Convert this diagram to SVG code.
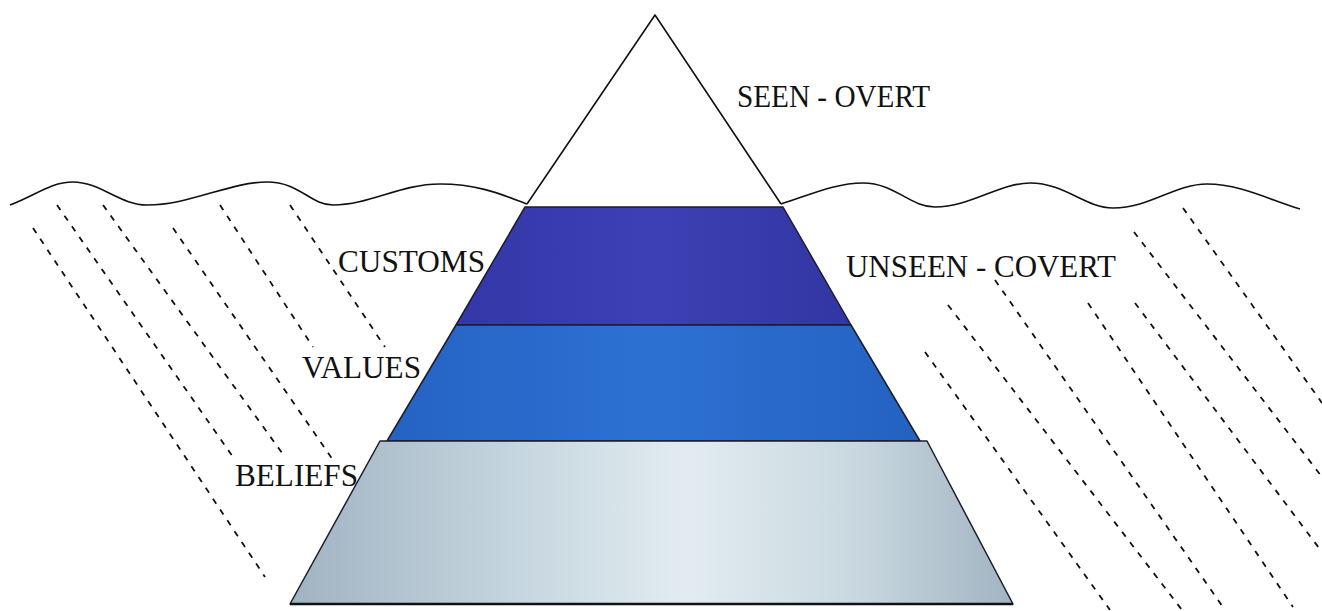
<svg xmlns="http://www.w3.org/2000/svg" width="1322" height="611" viewBox="0 0 1322 611">
<defs>
<linearGradient id="gBeliefs" gradientUnits="userSpaceOnUse" x1="290" y1="0" x2="1013" y2="0">
<stop offset="0" stop-color="#a0b3c1"/>
<stop offset="0.3" stop-color="#c4d4de"/>
<stop offset="0.55" stop-color="#e2ecf0"/>
<stop offset="0.78" stop-color="#c9d8e0"/>
<stop offset="1" stop-color="#a2b4c2"/>
</linearGradient>
<linearGradient id="gCustoms" gradientUnits="userSpaceOnUse" x1="456" y1="0" x2="851" y2="0">
<stop offset="0" stop-color="#3437a8"/>
<stop offset="0.5" stop-color="#3c40b2"/>
<stop offset="1" stop-color="#3236a4"/>
</linearGradient>
<linearGradient id="gValues" gradientUnits="userSpaceOnUse" x1="387" y1="0" x2="920" y2="0">
<stop offset="0" stop-color="#2563c3"/>
<stop offset="0.5" stop-color="#2c71d2"/>
<stop offset="1" stop-color="#2462c0"/>
</linearGradient>
</defs>
<style>
.edge{fill:none;stroke:#111;stroke-width:1.6;stroke-linejoin:round}
.band{stroke:#1c1c2c;stroke-width:1.5;stroke-linejoin:round}
.dash{fill:none;stroke:#111;stroke-width:1.8;stroke-dasharray:6 7}
.lbl{font-family:"Liberation Serif","Times New Roman",serif;font-size:32px;fill:#111}
</style>
<rect width="1322" height="611" fill="#ffffff"/>

<g id="water">
<path class="edge" d="M10,205 C35,196 50,182 73,182 C100,182 120,205 147,205 C190,205 230,182 267,182 C300,182 310,205 333,205 C370,205 400,184 440,184 C480,184 505,196 527,204"/>
<path class="edge" d="M781,204 C810,195 835,183 863,183 C895,183 910,207 935,207 C970,207 1000,183 1030,183 C1065,183 1085,208 1113,208 C1150,208 1175,184 1207,184 C1240,184 1270,200 1300,209"/>
</g>

<g id="hatching">
<line class="dash" x1="33" y1="228" x2="265" y2="577"/>
<line class="dash" x1="57" y1="205" x2="233" y2="457"/>
<line class="dash" x1="103" y1="205" x2="285" y2="457"/>
<line class="dash" x1="173" y1="228" x2="333" y2="460"/>
<line class="dash" x1="220" y1="205" x2="313" y2="347"/>
<line class="dash" x1="290" y1="205" x2="385" y2="347"/>
<line class="dash" x1="925" y1="352" x2="1110" y2="610"/>
<line class="dash" x1="948" y1="305" x2="1182" y2="610"/>
<line class="dash" x1="995" y1="280" x2="1225" y2="610"/>
<line class="dash" x1="1088" y1="303" x2="1293" y2="607"/>
<line class="dash" x1="1135" y1="303" x2="1322" y2="552"/>
<line class="dash" x1="1134" y1="232" x2="1322" y2="477"/>
<line class="dash" x1="1183" y1="208" x2="1322" y2="403"/>
</g>

<g id="tip">
<polyline class="edge" points="527,204 655,15 781,204"/>
</g>

<g id="customs">
<polygon class="band" fill="url(#gCustoms)" points="525,207 783,207 851,325 456,325"/>
</g>
<g id="values">
<polygon class="band" fill="url(#gValues)" points="456,325 851,325 920,441 387,441"/>
</g>
<g id="beliefs">
<polygon class="band" fill="url(#gBeliefs)" points="380,441 927,441 1013,604 290,604"/>
<line x1="290" y1="604" x2="1013" y2="604" stroke="#111" stroke-width="2.5"/>
</g>

<g id="labels">
<text class="lbl" x="737" y="107" textLength="193" lengthAdjust="spacingAndGlyphs">SEEN - OVERT</text>
<text class="lbl" x="338" y="272" textLength="147" lengthAdjust="spacingAndGlyphs">CUSTOMS</text>
<text class="lbl" x="846" y="277" textLength="270" lengthAdjust="spacingAndGlyphs">UNSEEN - COVERT</text>
<text class="lbl" x="302" y="378" textLength="119" lengthAdjust="spacingAndGlyphs">VALUES</text>
<text class="lbl" x="235" y="486" textLength="123" lengthAdjust="spacingAndGlyphs">BELIEFS</text>
</g>
</svg>
